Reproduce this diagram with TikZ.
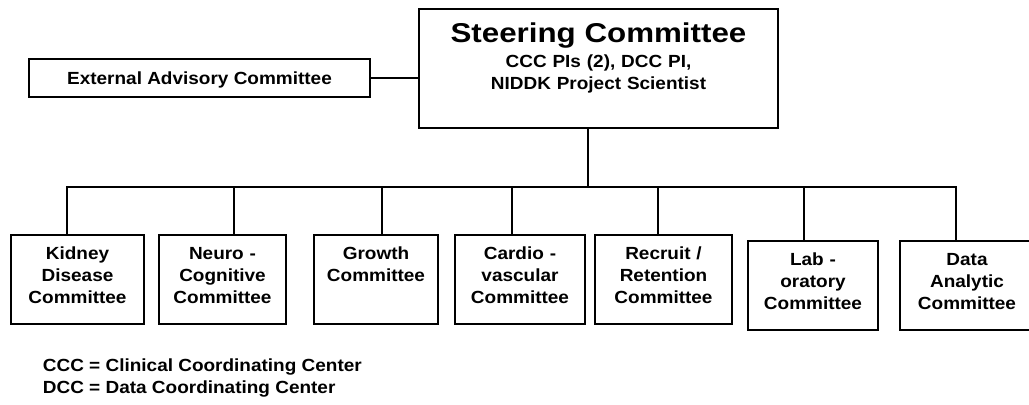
\documentclass[tikz,border=0pt]{standalone}
\usepackage{fontspec}
\setmainfont[FakeStretch=1.08]{Liberation Sans}
\newfontfamily\titlefont[FakeStretch=1.15]{Liberation Sans}
\usetikzlibrary{positioning}

\begin{document}
\begin{tikzpicture}[x=0.02cm, y=-0.02cm, line width=1pt,
  font=\bfseries\fontsize{10}{12.5}\selectfont,
  cbox/.style={draw, inner sep=0pt, minimum height=1.78cm},
  ctext/.style={anchor=base, align=center, inner sep=0pt, text width=2.5cm}]

\clip (0,0) rectangle (1029,405);

% Steering committee (top)
\node[cbox, minimum width=7.18cm, minimum height=2.38cm] (steer) at (598.5,68.5) {};
\node[anchor=base, inner sep=0pt, font=\titlefont\bfseries\fontsize{15.5}{18}\selectfont]
  (steer-title) at (598.5,43) {Steering Committee};
\node[ctext, text width=5cm] (steer-sub) at (598.5,68) {CCC PIs (2), DCC PI,\\NIDDK Project Scientist};

% External advisory committee
\node[cbox, minimum width=6.82cm, minimum height=0.76cm, text height=7.2pt, text depth=0pt]
  (ext) at (199.5,78) {External Advisory Committee};
\draw (ext.east) -- (ext.east -| steer.west);

% ---- Committees ----
\node[cbox, minimum width=2.66cm] (kid) at (77.5,279.5) {};
\node[ctext] (kid-t) at (77.5,260) {Kidney\\Disease\\Committee};

\node[cbox, minimum width=2.54cm] (neu) at (222.5,279.5) {};
\node[ctext] (neu-t) at (222.5,260) {Neuro -\\Cognitive\\Committee};

\node[cbox, minimum width=2.48cm] (gro) at (376,279.5) {};
\node[ctext] (gro-t) at (376,260) {Growth\\Committee};

\node[cbox, minimum width=2.6cm] (car) at (520,279.5) {};
\node[ctext] (car-t) at (520,260) {Cardio -\\vascular\\Committee};

\node[cbox, minimum width=2.74cm] (rec) at (663.5,279.5) {};
\node[ctext] (rec-t) at (663.5,260) {Recruit /\\Retention\\Committee};

\node[cbox, minimum width=2.6cm] (lab) at (813,285.5) {};
\node[ctext] (lab-t) at (813,266) {Lab -\\oratory\\Committee};

\node[cbox, minimum width=2.68cm] (dat) at (967,285.5) {};
\node[ctext] (dat-t) at (967,266) {Data\\Analytic\\Committee};

% ---- Connectors ----
\coordinate (bus) at (588,187);
\coordinate (d1) at (67,187);
\coordinate (d2) at (234,187);
\coordinate (d3) at (382,187);
\coordinate (d4) at (512,187);
\coordinate (d5) at (658,187);
\coordinate (d6) at (804,187);
\coordinate (d7) at (956,187);

\draw (steer.south -| bus) -- (bus);
\draw (kid.north -| d1) -- (d1) -- (d7) -- (d7 |- dat.north);
\foreach \d/\n in {d2/neu, d3/gro, d4/car, d5/rec, d6/lab}
  \draw (\d) -- (\d |- \n.north);

% Legend
\node[anchor=base west, inner sep=0pt] (leg-ccc) at (42,372) {CCC = Clinical Coordinating Center};
\node[anchor=base west, inner sep=0pt] (leg-dcc) at (42,393.5) {DCC = Data Coordinating Center};

\end{tikzpicture}
\end{document}
